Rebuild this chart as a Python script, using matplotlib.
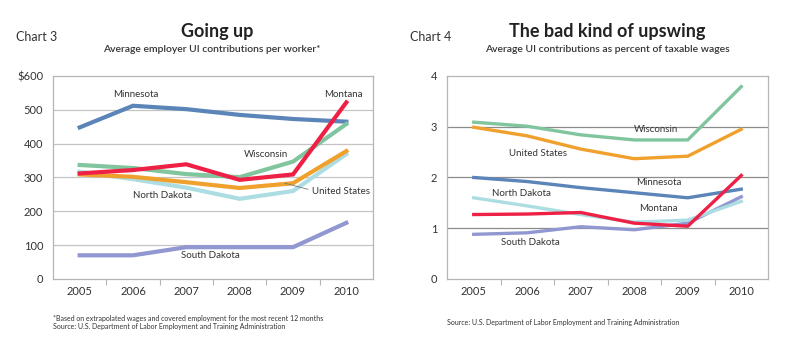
import matplotlib.pyplot as plt
from matplotlib.ticker import FixedLocator

plt.rcParams['font.family'] = ['Lato', 'DejaVu Sans']

years = ['2005', '2006', '2007', '2008', '2009', '2010']

# Chart 3: average employer UI contributions per worker ($)
dollars = {
    'Minnesota':     [448, 512, 502, 485, 473, 465],
    'Wisconsin':     [337, 328, 310, 301, 347, 458],
    'United States': [309, 302, 286, 269, 283, 378],
    'North Dakota':  [317, 295, 270, 237, 260, 369],
    'Montana':       [312, 322, 339, 293, 309, 522],
    'South Dakota':  [70, 70, 94, 94, 94, 166],
}

# Chart 4: average UI contributions as percent of taxable wages
percent = {
    'Minnesota':     [2.00, 1.92, 1.80, 1.70, 1.60, 1.77],
    'Wisconsin':     [3.09, 3.01, 2.84, 2.74, 2.74, 3.79],
    'United States': [2.99, 2.82, 2.56, 2.37, 2.42, 2.95],
    'North Dakota':  [1.60, 1.44, 1.27, 1.12, 1.16, 1.53],
    'South Dakota':  [0.88, 0.91, 1.03, 0.97, 1.10, 1.62],
    'Montana':       [1.27, 1.28, 1.31, 1.10, 1.04, 2.04],
}

colors = {
    'Minnesota': '#5b84b8',
    'Wisconsin': '#80c59d',
    'United States': '#f0a02c',
    'North Dakota': '#abdde2',
    'Montana': '#ee2045',
    'South Dakota': '#9197d0',
}
draw_order = ['Minnesota', 'South Dakota', 'North Dakota', 'United States', 'Wisconsin', 'Montana']

txt = '#333333'
fig = plt.figure(figsize=(8, 3.47), dpi=100)


def setup(ax, ymax, step, labels, grid_color):
    x = range(len(years))
    ax.set_xlim(-0.5, len(years) - 0.5)
    ax.set_ylim(0, ymax)
    for s in ax.spines.values():
        s.set_color('#b5b5b5')
        s.set_linewidth(0.9)
    ax.set_xticks(list(x))
    ax.set_xticklabels(years, fontsize=8, color=txt)
    ax.xaxis.set_minor_locator(FixedLocator([i + 0.5 for i in range(len(years) - 1)]))
    ax.tick_params(axis='x', which='major', length=0, pad=5)
    ax.tick_params(axis='x', which='minor', length=4, color='#b5b5b5', width=0.8)
    ticks = [i * step for i in range(len(labels))]
    ax.set_yticks(ticks)
    ax.set_yticklabels(labels, fontsize=8, color=txt)
    ax.tick_params(axis='y', length=0, pad=7)
    for t in ticks[1:-1]:
        ax.axhline(t, color=grid_color, lw=0.9, zorder=1)


# ---- Chart 3 ----
ax1 = fig.add_axes([0.06625, 0.196, 0.4, 0.585])
setup(ax1, 600, 100, ['0', '100', '200', '300', '400', '500', '$600'], '#c4c4c4')
for name in draw_order:
    ax1.plot(range(len(years)), dollars[name], color=colors[name], lw=3.0,
             solid_joinstyle='miter', zorder=3)

lab = dict(fontsize=7, color=txt, ha='center', va='center')
ax1.text(1.05, 545, 'Minnesota', **lab)
ax1.text(4.95, 545, 'Montana', **lab)
ax1.text(3.5, 367, 'Wisconsin', **lab)
ax1.text(1.55, 246, 'North Dakota', **lab)
ax1.text(2.45, 68, 'South Dakota', **lab)
ax1.text(4.35, 258, 'United States', fontsize=7, color=txt, ha='left', va='center')
ax1.plot([3.85, 4.28], [283, 265], color='#777777', lw=0.6, zorder=4)

fig.text(16 / 800, 1 - 37 / 347, 'Chart 3', fontsize=9, color=txt, va='center')
fig.text(217 / 800, 1 - 32 / 347, 'Going up', fontsize=13, weight='bold',
         color='#222222', ha='center', va='center')
fig.text(212 / 800, 1 - 50 / 347, 'Average employer UI contributions per worker*',
         fontsize=7.5, weight='semibold', color=txt, ha='center', va='center')
fig.text(53 / 800, 1 - 318 / 347,
         '*Based on extrapolated wages and covered employment for the most recent 12 months',
         fontsize=5, color=txt, va='center')
fig.text(53 / 800, 1 - 327 / 347,
         'Source: U.S. Department of Labor Employment and Training Administration',
         fontsize=5, color=txt, va='center')

# ---- Chart 4 ----
ax2 = fig.add_axes([0.55875, 0.196, 0.40125, 0.585])
setup(ax2, 4, 1, ['0', '1', '2', '3', '4'], '#8c8c8c')
for name in draw_order:
    ax2.plot(range(len(years)), percent[name], color=colors[name], lw=2.4,
             solid_joinstyle='round', zorder=3)

ax2.text(3.4, 2.95, 'Wisconsin', **lab)
ax2.text(1.2, 2.48, 'United States', **lab)
ax2.text(3.45, 1.91, 'Minnesota', **lab)
ax2.text(0.9, 1.68, 'North Dakota', **lab)
ax2.text(3.45, 1.38, 'Montana', **lab)
ax2.text(1.05, 0.71, 'South Dakota', **lab)

fig.text(410 / 800, 1 - 37 / 347, 'Chart 4', fontsize=9, color=txt, va='center')
fig.text(607 / 800, 1 - 32 / 347, 'The bad kind of upswing', fontsize=13,
         weight='bold', color='#222222', ha='center', va='center')
fig.text(607 / 800, 1 - 50 / 347, 'Average UI contributions as percent of taxable wages',
         fontsize=7.5, weight='semibold', color=txt, ha='center', va='center')
fig.text(447 / 800, 1 - 323 / 347,
         'Source: U.S. Department of Labor Employment and Training Administration',
         fontsize=5, color=txt, va='center')

fig.savefig('out.png', dpi=100)
